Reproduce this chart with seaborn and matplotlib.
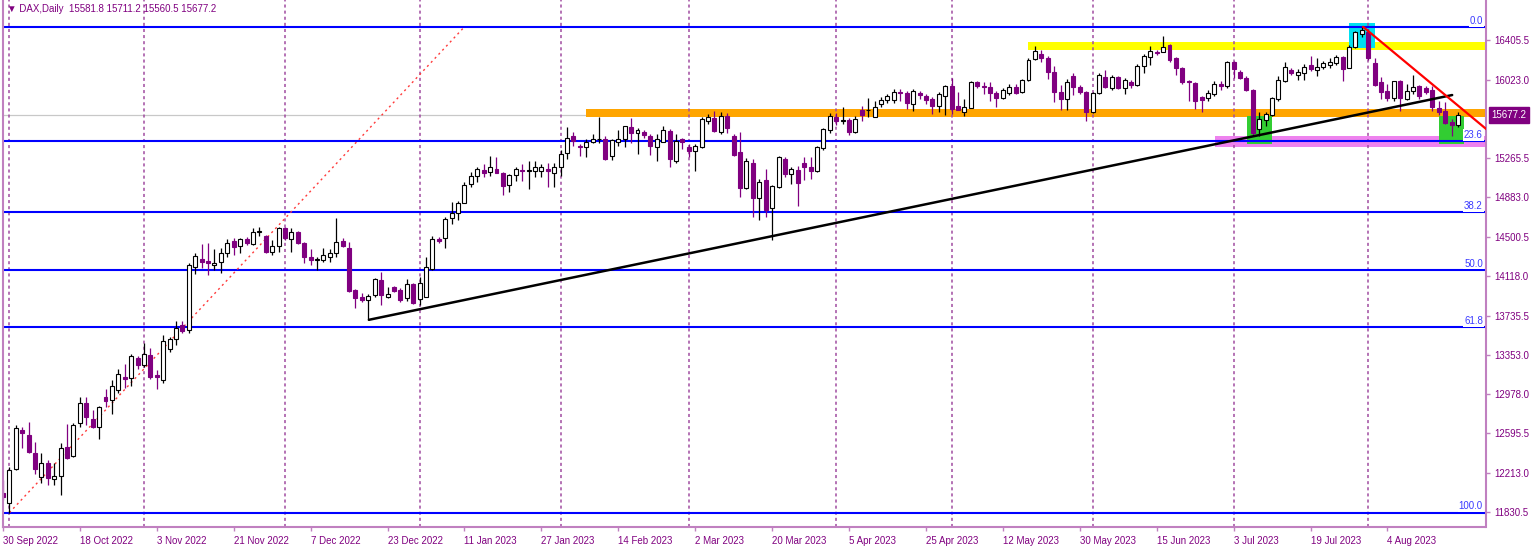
import numpy as np
import pandas as pd
import matplotlib
matplotlib.use("Agg")
import matplotlib.pyplot as plt
import matplotlib.transforms as mtransforms
import seaborn as sns

# DAX daily candles, 30 Sep 2022 .. 21 Aug 2023 (Xetra trading days)
first_day = "2022-09-30"
holidays = ["2022-12-26", "2023-04-07", "2023-04-10", "2023-05-01"]

opens = [
    12015, 11917, 12248, 12627, 12579, 12404, 12170, 12306, 12150, 12180,
    12462, 12375, 12695, 12890, 12734, 12656, 12950, 12918, 13016, 13143,
    13133, 13327, 13258, 13356, 13162, 13113, 13414, 13511, 13647, 13598,
    14210, 14288, 14268, 14230, 14259, 14346, 14463, 14414, 14482, 14434,
    14550, 14511, 14355, 14414, 14589, 14482, 14550, 14444, 14300, 14278,
    14278, 14307, 14346, 14463, 14394, 13987, 13919, 13890, 13938, 14084,
    13919, 14016, 13987, 13909, 14045, 13900, 13919, 14191, 14482, 14492,
    14686, 14735, 14832, 15016, 15094, 15152, 15133, 15162, 15123, 15006,
    15104, 15152, 15142, 15142, 15142, 15162, 15123, 15172, 15308, 15473,
    15385, 15366, 15415, 15444, 15444, 15279, 15415, 15444, 15560, 15502,
    15512, 15473, 15366, 15415, 15522, 15230, 15444, 15366, 15327, 15366,
    15618, 15648, 15512, 15667, 15473, 15318, 14978, 15220, 14880, 15055,
    14784, 14987, 15250, 15113, 15152, 15220, 15181, 15142, 15356, 15531,
    15657, 15618, 15628, 15512, 15725, 15725, 15657, 15784, 15822, 15822,
    15900, 15890, 15784, 15890, 15860, 15832, 15764, 15860, 15958, 15764,
    15706, 15745, 15997, 15958, 15948, 15890, 15842, 15890, 15948, 15900,
    16016, 16221, 16269, 16230, 16094, 15900, 15832, 16055, 15948, 15900,
    15706, 15890, 16045, 15938, 16045, 15938, 15997, 15967, 16152, 16240,
    16288, 16288, 16356, 16230, 16133, 16006, 15987, 15851, 15842, 15880,
    15977, 15958, 16191, 16094, 16036, 15919, 15541, 15628, 15677, 15832,
    16006, 16114, 16065, 16085, 16162, 16114, 16143, 16162, 16181, 16240,
    16133, 16337, 16463, 16483, 16181, 15997, 15909, 15842, 16006, 15832,
    15909, 15958, 15938, 15919, 15745, 15716, 15609, 15581.8,
]
highs = [
    12141, 12268, 12676, 12656, 12705, 12510, 12404, 12335, 12306, 12500,
    12686, 12700, 12950, 12950, 12821, 12860, 13030, 13113, 13220, 13269,
    13366, 13346, 13472, 13424, 13210, 13550, 13530, 13686, 13686, 14250,
    14346, 14434, 14444, 14385, 14395, 14482, 14492, 14492, 14502, 14589,
    14599, 14521, 14473, 14599, 14599, 14589, 14560, 14453, 14385, 14307,
    14395, 14385, 14686, 14492, 14453, 13996, 13957, 13948, 14104, 14162,
    14016, 14026, 14006, 14094, 14055, 14113, 14307, 14511, 14502, 14696,
    14842, 14851, 15036, 15133, 15172, 15201, 15279, 15269, 15133, 15113,
    15181, 15201, 15230, 15230, 15201, 15211, 15211, 15337, 15560, 15512,
    15395, 15444, 15493, 15657, 15473, 15444, 15531, 15570, 15648, 15551,
    15531, 15493, 15493, 15570, 15541, 15493, 15453, 15395, 15395, 15657,
    15686, 15716, 15706, 15696, 15493, 15512, 15260, 15250, 15065, 15162,
    15006, 15279, 15269, 15181, 15191, 15269, 15269, 15376, 15551, 15696,
    15696, 15755, 15648, 15667, 15764, 15841, 15813, 15851, 15880, 15929,
    15929, 15909, 15929, 15909, 15880, 15851, 15900, 15967, 16036, 15900,
    15832, 16006, 16006, 15997, 15997, 15909, 15939, 15977, 15977, 16026,
    16230, 16346, 16308, 16250, 16152, 15967, 16026, 16085, 15967, 15909,
    15900, 16085, 16114, 16065, 16055, 16036, 16016, 16172, 16269, 16346,
    16308, 16444, 16366, 16240, 16143, 16016, 15997, 15860, 15919, 16006,
    16006, 16201, 16201, 16114, 16055, 15929, 15706, 15706, 15851, 16055,
    16191, 16133, 16123, 16172, 16250, 16230, 16201, 16230, 16259, 16250,
    16356, 16493, 16535, 16512, 16230, 16045, 15977, 16006, 16016, 15977,
    16065, 15967, 15958, 15958, 15813, 15803, 15638, 15711.2,
]
lows = [
    11947, 11827, 12238, 12452, 12404, 12200, 12112, 12093, 12093, 11995,
    12346, 12365, 12656, 12676, 12647, 12540, 12850, 12782, 12987, 13035,
    13055, 13220, 13240, 13123, 13025, 13083, 13385, 13453, 13570, 13570,
    14142, 14200, 14133, 14181, 14152, 14307, 14327, 14346, 14424, 14424,
    14511, 14346, 14327, 14355, 14473, 14355, 14434, 14249, 14230, 14181,
    14259, 14259, 14307, 14405, 13967, 13812, 13870, 13696, 13919, 13841,
    13909, 13967, 13870, 13880, 13851, 13841, 13919, 14181, 14444, 14395,
    14628, 14667, 14832, 14987, 15036, 15084, 15094, 15123, 14909, 14939,
    15045, 15045, 14968, 15075, 15084, 14987, 14987, 15094, 15259, 15376,
    15279, 15269, 15405, 15405, 15240, 15240, 15376, 15366, 15414, 15298,
    15453, 15289, 15230, 15415, 15181, 15220, 15347, 15269, 15142, 15356,
    15589, 15512, 15493, 15502, 15279, 14890, 14968, 14696, 14667, 14696,
    14473, 14978, 15075, 15016, 14803, 15055, 15065, 15133, 15337, 15502,
    15580, 15589, 15483, 15502, 15618, 15657, 15657, 15755, 15793, 15793,
    15813, 15735, 15716, 15832, 15784, 15686, 15706, 15677, 15686, 15725,
    15667, 15745, 15939, 15880, 15813, 15755, 15832, 15870, 15880, 15890,
    16006, 16211, 16191, 16026, 15803, 15725, 15725, 15870, 15880, 15618,
    15696, 15880, 15939, 15919, 15929, 15880, 15938, 15958, 16085, 16162,
    16259, 16288, 16191, 16065, 15977, 15813, 15735, 15706, 15813, 15860,
    15919, 15939, 16036, 16026, 15909, 15483, 15473, 15570, 15667, 15813,
    15997, 16065, 16016, 16016, 16104, 16055, 16123, 16133, 16162, 16006,
    16133, 16327, 16435, 16211, 15958, 15832, 15813, 15813, 15716, 15822,
    15880, 15832, 15880, 15716, 15677, 15589, 15473, 15560.5,
]
closes = [
    11976, 12238, 12647, 12598, 12414, 12248, 12306, 12160, 12180, 12452,
    12356, 12676, 12890, 12754, 12656, 12850, 12910, 13055, 13172, 13123,
    13346, 13258, 13366, 13143, 13143, 13492, 13511, 13618, 13589, 14230,
    14317, 14259, 14249, 14249, 14346, 14444, 14405, 14482, 14444, 14550,
    14560, 14355, 14414, 14589, 14492, 14550, 14444, 14307, 14278, 14288,
    14327, 14346, 14453, 14414, 13977, 13909, 13890, 13929, 14094, 13938,
    13948, 13977, 13890, 14045, 13860, 14055, 14210, 14482, 14463, 14677,
    14735, 14832, 15006, 15094, 15162, 15123, 15181, 15123, 14997, 15104,
    15162, 15137, 15147, 15172, 15172, 15142, 15172, 15298, 15454, 15424,
    15366, 15415, 15444, 15449, 15250, 15434, 15444, 15570, 15502, 15531,
    15483, 15376, 15444, 15531, 15250, 15424, 15415, 15327, 15376, 15638,
    15657, 15522, 15667, 15551, 15289, 14978, 15230, 14880, 15036, 14764,
    14997, 15269, 15113, 15162, 15026, 15181, 15142, 15366, 15541, 15667,
    15618, 15628, 15512, 15638, 15677, 15730, 15755, 15822, 15860, 15900,
    15890, 15793, 15909, 15870, 15822, 15764, 15880, 15958, 15735, 15725,
    15755, 15997, 15958, 15948, 15890, 15842, 15919, 15948, 15890, 16016,
    16211, 16298, 16230, 16094, 15900, 15832, 15997, 15948, 15900, 15706,
    15890, 16065, 15948, 16045, 15938, 16016, 15967, 16152, 16250, 16298,
    16279, 16337, 16211, 16133, 15997, 15997, 15813, 15822, 15890, 15977,
    15958, 16191, 16123, 16036, 15919, 15511, 15638, 15686, 15842, 16016,
    16143, 16085, 16094, 16143, 16123, 16143, 16181, 16191, 16240, 16123,
    16337, 16483, 16502, 16230, 15967, 15900, 15842, 16006, 15842, 15909,
    15948, 15860, 15900, 15755, 15706, 15599, 15580, 15677.2,
]

tick_labels = [
    "30 Sep 2022", "18 Oct 2022", "3 Nov 2022", "21 Nov 2022", "7 Dec 2022",
    "23 Dec 2022", "11 Jan 2023", "27 Jan 2023", "14 Feb 2023", "2 Mar 2023",
    "20 Mar 2023", "5 Apr 2023", "25 Apr 2023", "12 May 2023", "30 May 2023",
    "15 Jun 2023", "3 Jul 2023", "19 Jul 2023", "4 Aug 2023",
]
price_ticks = [16405.5, 16023.0, 15265.5, 14883.0, 14500.5, 14118.0,
               13735.5, 13353.0, 12978.0, 12595.5, 12213.0, 11830.5]

# fibonacci retracement drawn from the Sep 2022 low to the Jul 2023 high
fib_high = 16535.0
fib_low = 11827.0
fib_ratios = [0.0, 23.6, 38.2, 50.0, 61.8, 100.0]

# drawn objects: (bar from, bar to, price from, price to)
fib_diag = (1, 72, fib_low, fib_high)
support_line = (57.1, 226.1, 13696, 15874)
resist_line = (212.2, 231.5, 16535, 15540)
zones = [
    (91.0, 240, 15660, 15735, "#ffa500"),    # orange resistance
    (159.9, 240, 16312, 16392, "#ffff00"),   # yellow top
    (189.1, 240, 15369, 15477, "#ee82ee"),   # violet support
    (194.1, 198.0, 15399, 15670, "#32cd32"),  # green box July
    (224.0, 227.9, 15399, 15670, "#32cd32"),  # green box August
    (210.0, 214.1, 16330, 16572, "#00e0f0"),  # cyan top box
]

purple = "#800080"
frame = "#c080c0"

sns.set_theme(style="white")
plt.rcParams["font.family"] = ["Liberation Sans", "DejaVu Sans"]

df = pd.DataFrame({"open": opens, "high": highs, "low": lows, "close": closes})
df["date"] = pd.bdate_range(first_day, periods=len(df), freq="C", holidays=holidays)
df["bar"] = np.arange(len(df))
up = (df["close"] >= df["open"]).to_numpy()

fig = plt.figure(figsize=(15.36, 5.46), dpi=100)
ax = fig.add_axes([2.5 / 1536, 19.5 / 546, 1483 / 1536, 526.5 / 546])
ax.set_xlim(-0.07, 231.3)
ax.set_ylim(11693, 16795)

# last price line
ax.axhline(closes[-1], color="#c8c8c8", lw=0.9, zorder=1)

for x0, x1, y0, y1, col in zones:
    ax.fill_between([x0, x1], y0, y1, color=col, lw=0, zorder=1.2)

# month separators
month_start = df["bar"][df["date"].dt.month != df["date"].dt.month.shift()].iloc[1:]
for b in month_start:
    ax.axvline(b, color="#a04ca0", lw=1.1, ls=(0, (2, 2)), zorder=1.3)

for r in fib_ratios:
    lvl = fib_high - r / 100 * (fib_high - fib_low)
    ax.axhline(lvl, color="#0000ff", lw=1.5, zorder=1.5)
    ax.text(230.9, lvl + 12, f"{r:.1f}", color="#3a3aff", fontsize=7, ha="right", va="bottom",
            zorder=1.6, bbox=dict(boxstyle="square,pad=0.1", fc="white", ec="none"))

ax.plot(fib_diag[:2], fib_diag[2:], color="#ff3b3b", lw=1, ls=(0, (1.5, 2.5)), zorder=1.7)

# candles
ax.vlines(df["bar"], df["low"], df["high"], colors=np.where(up, "black", purple), lw=0.9, zorder=2)
ax.bar(df["bar"], (df["close"] - df["open"]).abs(), bottom=df[["open", "close"]].min(axis=1),
       width=0.62, color=np.where(up, "white", purple), edgecolor=np.where(up, "black", purple),
       linewidth=0.8, zorder=2.1)

ax.plot(support_line[:2], support_line[2:], color="black", lw=1.8, zorder=3)
ax.plot(resist_line[:2], resist_line[2:], color="#ff0000", lw=1.6, zorder=3)

# axes
ax.set_xticks(df["bar"][::12])
ax.set_xticklabels(tick_labels, ha="left")
ax.yaxis.tick_right()
ax.set_yticks(price_ticks)
ax.set_yticklabels([f"{v:.1f}" for v in price_ticks])
ax.tick_params(axis="both", bottom=True, right=True, left=False, direction="out", length=3,
               width=1, colors=frame, labelcolor=purple, labelsize=7)
ax.tick_params(axis="x", pad=4)
ax.tick_params(axis="y", pad=3)
ax.grid(False)
ax.spines["top"].set_visible(False)
for s in ["left", "right", "bottom"]:
    ax.spines[s].set_color(frame)
    ax.spines[s].set_linewidth(1.5)

trans = mtransforms.blended_transform_factory(ax.transAxes, ax.transData)
ax.text(1.004, closes[-1], f"{closes[-1]:.1f}", transform=trans, color="white", fontsize=7,
        ha="left", va="center", zorder=10, clip_on=False,
        bbox=dict(boxstyle="square,pad=0.3", fc=purple, ec=purple))

fig.text(7 / 1536, 1 - 9 / 546,
         f"\u25bc DAX,Daily  {opens[-1]} {highs[-1]} {lows[-1]} {closes[-1]}",
         color=purple, fontsize=7, va="center", ha="left")

fig.savefig("out.png", dpi=100)
